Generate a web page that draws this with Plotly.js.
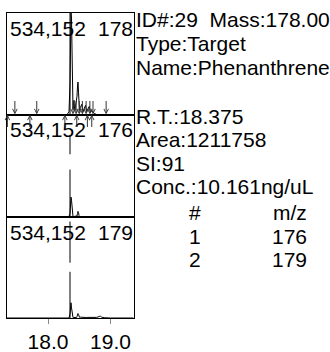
<!DOCTYPE html>
<html><head><meta charset="utf-8">
<script src="https://cdn.plot.ly/plotly-3.0.1.min.js"></script>
<style>html,body{margin:0;padding:0;background:#fff;}#chart{width:330px;height:352px;}</style>
</head><body><div id="chart"></div>
<script>
// ---- data ----
const retentionTime = [17.34, 17.6, 17.9, 18.2, 18.30, 18.32, 18.336, 18.352, 18.360, 18.368, 18.376, 18.384, 18.392, 18.40, 18.408, 18.416, 18.424, 18.432, 18.44, 18.448, 18.456, 18.464, 18.472, 18.48, 18.488, 18.496, 18.504, 18.52, 18.54, 18.56, 18.58, 18.60, 18.62, 18.64, 18.66, 18.68, 18.70, 18.74, 18.78, 18.82, 18.84, 18.86, 18.90, 19.0, 19.2, 19.37];
const intensity178 = [0, 0, 0, 0, 0, 1, 3, 30, 75, 100, 95, 45, 12, 5, 9, 14, 6, 4, 8, 12, 10, 18, 28, 32, 22, 8, 4, 7, 10, 3, 6, 9, 3, 5, 8, 2, 4, 1, 0, 0, 0, 0, 0, 0, 0, 0];
const intensity176 = [0, 0, 0, 0, 0, 0, 0, 3, 12, 19, 16, 6, 1, 0, 0, 0, 0, 0, 0, 0, 0, 0.5, 3, 5, 4, 1, 0, 0, 0, 0, 0, 0, 0, 0, 0, 0, 0, 0, 0, 0, 0, 0, 0, 0, 0, 0];
const intensity179 = [0, 0, 0, 0, 0, 0, 0, 4, 13, 15, 10, 4, 1.5, 0.5, 0.5, 0.5, 0.5, 0.5, 0.5, 0.5, 0.5, 1.5, 3.5, 4.4, 3.5, 1.5, 0.7, 0.8, 0.6, 0.8, 0.5, 0.7, 0.5, 0.6, 0.5, 0.6, 0.5, 0.5, 0.6, 1.5, 1.8, 0.8, 0.3, 0, 0, 0];
const panelScan = ['534,152', '534,152', '534,152'];
const panelMz = ['178', '176', '179'];
const rtMarker = 18.352;
const downArrows = [17.47, 17.82, 18.40, 18.45, 18.50, 18.55, 18.61, 18.67, 18.72, 18.93];
const upArrows = [17.35, 17.71, 18.27, 18.46, 18.63, 18.70];
const infoLines = ['ID#:29\u00a0\u00a0Mass:178.00', 'Type:Target', 'Name:Phenanthrene', '', 'R.T.:18.375', 'Area:1211758', 'SI:91', 'Conc.:10.161ng/uL'];
const tableIndex = ['#', '1', '2'];
const tableMz = ['m/z', '176', '179'];
const tickVals = [18.0, 19.0];
const tickText = ['18.0', '19.0'];

// ---- layout geometry (pixels) ----
const W = 330, H = 352;
const L = 7, R = 133.5;
const tops = [13, 114.5, 216.5], bottoms = [114.5, 216.5, 318];
const px = v => v / W, py = v => 1 - v / H;
const FONT = 'Liberation Sans, Arial, sans-serif';

const series = [intensity178, intensity176, intensity179];
const yNames = ['y', 'y2', 'y3'];
const xNames = ['x3', 'x2', 'x'];

const traces = series.map((s, i) => ({
  x: retentionTime, y: s, type: 'scatter', mode: 'lines',
  xaxis: xNames[i], yaxis: yNames[i],
  line: {color: '#000', width: 1}, hoverinfo: 'skip'
}));

const layout = {
  width: W, height: H, margin: {l: 0, r: 0, t: 0, b: 0},
  paper_bgcolor: '#fff', plot_bgcolor: '#fff', showlegend: false,
  font: {family: FONT, size: 21, color: '#000'},
  annotations: [], shapes: []
};

const xBase = {
  domain: [px(L), px(R)], range: [17.344, 19.368], showline: true, mirror: true,
  linecolor: '#000', linewidth: 1, showgrid: false, zeroline: false, fixedrange: true
};
layout.xaxis = Object.assign({}, xBase, {anchor: 'y3', ticks: 'outside', ticklen: 5, tickcolor: '#888', tickwidth: 1,
  tickmode: 'array', tickvals: tickVals, ticktext: tickText, tickfont: {family: FONT, size: 21, color: '#000'}});
layout.xaxis2 = Object.assign({}, xBase, {anchor: 'y2', matches: 'x', showticklabels: false, ticks: ''});
layout.xaxis3 = Object.assign({}, xBase, {anchor: 'y', matches: 'x', showticklabels: false, ticks: ''});

['yaxis', 'yaxis2', 'yaxis3'].forEach((k, i) => {
  layout[k] = {domain: [py(bottoms[i]), py(tops[i])], range: [0, 100], anchor: xNames[i],
    showline: true, mirror: true, linecolor: '#000', linewidth: 1, ticks: '', showticklabels: false,
    showgrid: false, zeroline: false, fixedrange: true};
});

// retention-time marker lines (with gaps as in the reference)
const markerSegs = [[[0, 1]], [[0, 0.46], [0.61, 0.8]], [[0, 0.455], [0.545, 0.95]]];
markerSegs.forEach((segs, i) => segs.forEach(sg => layout.shapes.push({
  type: 'line', xref: xNames[i], yref: yNames[i] + ' domain', x0: rtMarker, x1: rtMarker,
  y0: sg[0], y1: sg[1], line: {color: '#000', width: 1}
})));

// panel labels
panelScan.forEach((t, i) => {
  layout.annotations.push({xref: 'paper', yref: 'paper', x: px(L + 0.5), y: py(tops[i]), xanchor: 'left', yanchor: 'top',
    text: t, showarrow: false, yshift: -2, font: {family: FONT, size: 21, color: '#000'}});
  layout.annotations.push({xref: 'paper', yref: 'paper', x: px(R + 1), y: py(tops[i]), xanchor: 'right', yanchor: 'top',
    text: panelMz[i], showarrow: false, yshift: -2, font: {family: FONT, size: 21, color: '#000'}});
});

// peak start / end arrows in the top panel
downArrows.forEach(t => layout.annotations.push({xref: 'x3', yref: 'y', x: t, y: 0, text: '', showarrow: true,
  ax: 0, ay: -15, arrowhead: 5, arrowsize: 0.9, arrowwidth: 1, arrowcolor: '#333', standoff: 0}));
upArrows.forEach(t => layout.annotations.push({xref: 'x3', yref: 'y', x: t, y: 0, text: '', showarrow: true,
  ax: 0, ay: 14, arrowhead: 5, arrowsize: 0.9, arrowwidth: 1, arrowcolor: '#333', standoff: 0}));

// info text
const lineY0 = 20, lineStep = 23.6;
infoLines.forEach((t, i) => {
  if (!t) return;
  const yc = i < 3 ? lineY0 + i * lineStep : 116 + (i - 4) * lineStep;
  layout.annotations.push({xref: 'paper', yref: 'paper', x: px(134), y: py(yc), xanchor: 'left', yanchor: 'middle',
    text: t, showarrow: false, font: {family: FONT, size: 21, color: '#000'}});
});
tableIndex.forEach((t, i) => {
  const yc = 212.5 + i * lineStep;
  layout.annotations.push({xref: 'paper', yref: 'paper', x: px(194.5), y: py(yc), xanchor: 'center', yanchor: 'middle',
    text: t, showarrow: false, font: {family: FONT, size: 21, color: '#000'}});
  layout.annotations.push({xref: 'paper', yref: 'paper', x: px(309), y: py(yc), xanchor: 'right', yanchor: 'middle',
    text: tableMz[i], showarrow: false, font: {family: FONT, size: 21, color: '#000'}});
});

Plotly.newPlot('chart', traces, layout, {staticPlot: true, displayModeBar: false});
</script>
</body></html>
